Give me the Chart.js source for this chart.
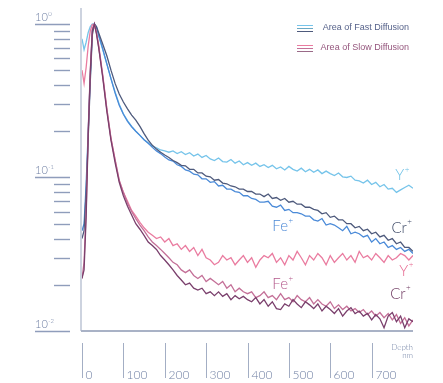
<!DOCTYPE html>
<html>
<head>
<meta charset="utf-8">
<script src="https://cdn.jsdelivr.net/npm/chart.js@4.4.1/dist/chart.umd.min.js"></script>
<style>
  body { margin: 0; background: #fff; }
  #wrap { width: 443px; height: 383px; position: relative; }
</style>
</head>
<body>
<div id="wrap"><canvas id="grafico"></canvas></div>
<script>
// profundidade (nm)
const depth = [0, 5, 10, 15, 20, 25, 30, 35, 40,
  50, 60, 70, 80, 90, 100, 110, 120, 130, 140, 150, 160, 170, 180, 190, 200,
  210, 220, 230, 240, 250, 260, 270, 280, 290, 300, 310, 320, 330, 340, 350,
  360, 370, 380, 390, 400, 410, 420, 430, 440, 450, 460, 470, 480, 490, 500,
  510, 520, 530, 540, 550, 560, 570, 580, 590, 600, 610, 620, 630, 640, 650,
  660, 670, 680, 690, 700, 710, 720, 730, 740, 750, 760, 770, 780, 790, 800];

// area of fast diffusion
const fastY = [0.80, 0.68, 0.76, 0.88, 0.96, 1.0, 0.99, 0.93, 0.84,
  0.68, 0.55, 0.44, 0.36, 0.30, 0.26, 0.235, 0.215, 0.20, 0.188, 0.176, 0.168, 0.16, 0.156, 0.151, 0.149,
  0.146, 0.149, 0.143, 0.147, 0.141, 0.145, 0.138, 0.142, 0.135, 0.139, 0.132, 0.129, 0.134, 0.127, 0.126,
  0.131, 0.124, 0.128, 0.121, 0.125, 0.12, 0.124, 0.118, 0.121, 0.116, 0.12, 0.114, 0.117, 0.112, 0.118,
  0.113, 0.11, 0.115, 0.109, 0.113, 0.108, 0.112, 0.106, 0.11, 0.106, 0.103, 0.107, 0.101, 0.1, 0.102,
  0.096, 0.095, 0.092, 0.096, 0.09, 0.093, 0.087, 0.09, 0.084, 0.085, 0.08, 0.083, 0.086, 0.089, 0.085];
const fastFe = [0.045, 0.05, 0.09, 0.2, 0.45, 0.9, 1.0, 0.95, 0.85,
  0.69, 0.55, 0.44, 0.355, 0.295, 0.258, 0.232, 0.214, 0.2, 0.188, 0.176, 0.167, 0.157, 0.149, 0.143, 0.136,
  0.13, 0.128, 0.121, 0.118, 0.112, 0.11, 0.105, 0.104, 0.098, 0.098, 0.093, 0.094, 0.088, 0.089, 0.084,
  0.084, 0.081, 0.08, 0.076, 0.076, 0.073, 0.072, 0.069, 0.069, 0.07, 0.065, 0.064, 0.066, 0.061, 0.062,
  0.059, 0.059, 0.058, 0.056, 0.056, 0.053, 0.052, 0.054, 0.049, 0.05, 0.049, 0.047, 0.045, 0.048, 0.043,
  0.044, 0.043, 0.041, 0.042, 0.038, 0.04, 0.037, 0.038, 0.035, 0.036, 0.034, 0.035, 0.033, 0.034, 0.032];
const fastCr = [0.04, 0.045, 0.08, 0.18, 0.42, 0.85, 1.0, 0.96, 0.88,
  0.74, 0.62, 0.5, 0.41, 0.35, 0.31, 0.28, 0.255, 0.236, 0.215, 0.193, 0.175, 0.162, 0.153, 0.146, 0.14,
  0.135, 0.129, 0.125, 0.12, 0.119, 0.113, 0.113, 0.107, 0.107, 0.102, 0.101, 0.096, 0.097, 0.092, 0.091,
  0.088, 0.087, 0.084, 0.084, 0.081, 0.081, 0.078, 0.078, 0.075, 0.078, 0.073, 0.074, 0.071, 0.073, 0.069,
  0.07, 0.067, 0.067, 0.064, 0.064, 0.062, 0.061, 0.058, 0.059, 0.055, 0.056, 0.053, 0.053, 0.05, 0.05,
  0.047, 0.048, 0.045, 0.046, 0.043, 0.044, 0.041, 0.042, 0.039, 0.04, 0.037, 0.038, 0.035, 0.035, 0.033];

// area of slow diffusion
const slowY = [0.5, 0.41, 0.52, 0.72, 0.9, 0.99, 0.98, 0.88, 0.74,
  0.47, 0.28, 0.18, 0.13, 0.095, 0.08, 0.07, 0.061, 0.056, 0.051, 0.047, 0.044, 0.042, 0.04, 0.041, 0.038,
  0.04, 0.036, 0.037, 0.034, 0.036, 0.033, 0.035, 0.031, 0.034, 0.03, 0.029, 0.027, 0.028, 0.031, 0.029,
  0.03, 0.027, 0.029, 0.031, 0.028, 0.03, 0.026, 0.029, 0.031, 0.03, 0.032, 0.028, 0.03, 0.027, 0.031,
  0.029, 0.033, 0.03, 0.027, 0.031, 0.029, 0.032, 0.03, 0.027, 0.031, 0.028, 0.03, 0.032, 0.029, 0.031,
  0.028, 0.033, 0.03, 0.031, 0.029, 0.032, 0.03, 0.028, 0.031, 0.029, 0.03, 0.032, 0.031, 0.029, 0.031];
const slowFe = [0.022, 0.028, 0.06, 0.2, 0.5, 0.92, 1.0, 0.87, 0.72,
  0.46, 0.28, 0.18, 0.13, 0.096, 0.08, 0.068, 0.06, 0.054, 0.049, 0.045, 0.041, 0.038, 0.036, 0.034, 0.032,
  0.03, 0.028, 0.027, 0.025, 0.024, 0.025, 0.023, 0.022, 0.023, 0.021, 0.022, 0.021, 0.02, 0.021, 0.019,
  0.02, 0.018, 0.019, 0.018, 0.0175, 0.018, 0.0165, 0.017, 0.018, 0.0165, 0.017, 0.016, 0.0175, 0.016, 0.0165,
  0.0155, 0.017, 0.016, 0.0155, 0.0165, 0.015, 0.016, 0.015, 0.0145, 0.0155, 0.014, 0.0148, 0.0138, 0.0145, 0.0135,
  0.014, 0.0132, 0.0138, 0.0128, 0.0135, 0.0125, 0.0132, 0.0122, 0.013, 0.0118, 0.0128, 0.0112, 0.0122, 0.0108, 0.0118];
const slowCr = [0.022, 0.025, 0.055, 0.19, 0.48, 0.9, 1.0, 0.86, 0.71,
  0.45, 0.27, 0.175, 0.125, 0.093, 0.076, 0.065, 0.057, 0.05, 0.046, 0.042, 0.038, 0.036, 0.034, 0.031, 0.029,
  0.027, 0.025, 0.023, 0.0215, 0.02, 0.0205, 0.019, 0.0185, 0.019, 0.0175, 0.018, 0.017, 0.018, 0.0168, 0.0175,
  0.016, 0.017, 0.0162, 0.0168, 0.016, 0.0155, 0.0165, 0.015, 0.016, 0.0145, 0.0155, 0.014, 0.0138, 0.015, 0.0145,
  0.016, 0.015, 0.0142, 0.0155, 0.0148, 0.014, 0.015, 0.0135, 0.0145, 0.0138, 0.013, 0.014, 0.0125, 0.0135, 0.0142,
  0.013, 0.0135, 0.0125, 0.013, 0.0118, 0.0128, 0.012, 0.0105, 0.0125, 0.0132, 0.0115, 0.0125, 0.0105, 0.012, 0.0115];

const xTicks = [0, 100, 200, 300, 400, 500, 600, 700];
const yDecades = [1, 0.1, 0.01];
const yExpoentes = ['0', '-1', '-2'];

// rótulos dos íons: [texto, profundidade, valor, cor]
const rotulos = [
  ['Y', 757, 0.103, '#6cc0e6'],
  ['Cr', 748, 0.047, '#3f4b68'],
  ['Fe', 460, 0.048, '#4a88d6'],
  ['Y', 767, 0.0247, '#e6668e'],
  ['Fe', 460, 0.0201, '#b45a8c'],
  ['Cr', 745, 0.0175, '#6e3860']
];

const cores = {
  fastY: '#76c4ea', fastFe: '#4a8ad8', fastCr: '#4e5a7c',
  slowY: '#ea7ca0', slowFe: '#c47098', slowCr: '#7a3f6c'
};

function serie(vals) {
  return vals.map((v, i) => ({ x: depth[i], y: v }));
}

function ds(vals, cor) {
  return { data: serie(vals), borderColor: cor, borderWidth: 1.3, pointRadius: 0, tension: 0, fill: false };
}

const eixos = {
  id: 'eixos',
  beforeDatasetsDraw(chart) {
    const { ctx, chartArea: a, scales: { x, y } } = chart;
    ctx.save();
    // eixo y
    ctx.strokeStyle = '#bcc4d4';
    ctx.lineWidth = 1.5;
    ctx.beginPath(); ctx.moveTo(a.left - 1, a.top); ctx.lineTo(a.left - 1, a.bottom); ctx.stroke();
    // eixo x
    ctx.strokeStyle = '#a9b2c6';
    ctx.lineWidth = 2;
    ctx.beginPath(); ctx.moveTo(a.left - 1, a.bottom); ctx.lineTo(a.right, a.bottom); ctx.stroke();

    // marcas do eixo y
    ctx.strokeStyle = '#8f9dbb';
    ctx.lineWidth = 1.4;
    ctx.fillStyle = '#7080a4';
    yDecades.forEach((d, i) => {
      const py = Math.round(y.getPixelForValue(d)) + 0.5;
      ctx.beginPath(); ctx.moveTo(35, py); ctx.lineTo(70, py); ctx.stroke();
      ctx.font = '300 11px Lato, sans-serif';
      ctx.textAlign = 'left';
      ctx.textBaseline = 'alphabetic';
      ctx.fillText('10', 35, py - 4);
      const w = ctx.measureText('10').width;
      ctx.font = '300 6px Lato, sans-serif';
      ctx.fillText(yExpoentes[i], 35 + w + 0.5, py - 9);
      if (i < yDecades.length - 1) {
        for (let k = 2; k <= 9; k++) {
          const pm = Math.round(y.getPixelForValue(d * k / 10)) + 0.5;
          ctx.beginPath(); ctx.moveTo(54, pm); ctx.lineTo(70, pm); ctx.stroke();
        }
      }
    });

    // marcas do eixo x
    ctx.strokeStyle = '#a3aec4';
    ctx.lineWidth = 1;
    ctx.font = '300 12px Lato, sans-serif';
    ctx.fillStyle = '#7080a4';
    xTicks.forEach(t => {
      const px = Math.round(x.getPixelForValue(t)) + 0.5;
      ctx.beginPath(); ctx.moveTo(px, a.bottom + 12); ctx.lineTo(px, a.bottom + 47); ctx.stroke();
      ctx.fillText(String(t), px + 3, a.bottom + 48);
    });
    ctx.font = '300 8px Lato, sans-serif';
    ctx.textAlign = 'right';
    ctx.fillText('Depth', a.right, a.bottom + 19);
    ctx.fillText('nm', a.right, a.bottom + 27);
    ctx.restore();
  },
  afterDatasetsDraw(chart) {
    const { ctx, scales: { x, y } } = chart;
    ctx.save();
    // rótulos dos íons
    rotulos.forEach(([txt, d, v, cor]) => {
      const px = x.getPixelForValue(d);
      const py = y.getPixelForValue(v);
      ctx.fillStyle = cor;
      ctx.font = '300 15px Lato, sans-serif';
      ctx.textAlign = 'left';
      ctx.textBaseline = 'middle';
      ctx.fillText(txt, px, py);
      const w = ctx.measureText(txt).width;
      ctx.font = '300 8px Lato, sans-serif';
      ctx.fillText('+', px + w + 0.5, py - 6);
    });

    // legenda
    const leg = [
      ['Area of Fast Diffusion', 28, [cores.fastY, '#6aa8c4', cores.fastCr], '#56628a'],
      ['Area of Slow Diffusion', 48, [cores.slowY, cores.slowFe, '#9a6a88'], '#94557c']
    ];
    leg.forEach(([txt, ly, cs, cor]) => {
      cs.forEach((c, j) => {
        ctx.strokeStyle = c;
        ctx.lineWidth = 1;
        ctx.beginPath(); ctx.moveTo(297, ly - 3 + j * 3 + 0.5); ctx.lineTo(313, ly - 3 + j * 3 + 0.5); ctx.stroke();
      });
      ctx.fillStyle = cor;
      ctx.font = '9px "Liberation Sans Narrow", "Liberation Sans", sans-serif';
      ctx.textAlign = 'right';
      ctx.textBaseline = 'middle';
      ctx.fillText(txt, 409, ly);
    });
    ctx.restore();
  }
};

new Chart(document.getElementById('grafico'), {
  type: 'line',
  data: {
    datasets: [
      ds(slowCr, cores.slowCr),
      ds(slowFe, cores.slowFe),
      ds(slowY, cores.slowY),
      ds(fastCr, cores.fastCr),
      ds(fastFe, cores.fastFe),
      ds(fastY, cores.fastY)
    ]
  },
  options: {
    responsive: true,
    maintainAspectRatio: false,
    animation: false,
    layout: { padding: { left: 82, right: 30, top: 8, bottom: 52 } },
    plugins: { legend: { display: false }, tooltip: { enabled: false } },
    scales: {
      x: { type: 'linear', min: 0, max: 800, display: false },
      y: { type: 'logarithmic', min: 0.01, max: 1.27, display: false }
    }
  },
  plugins: [eixos]
});
</script>
</body>
</html>
